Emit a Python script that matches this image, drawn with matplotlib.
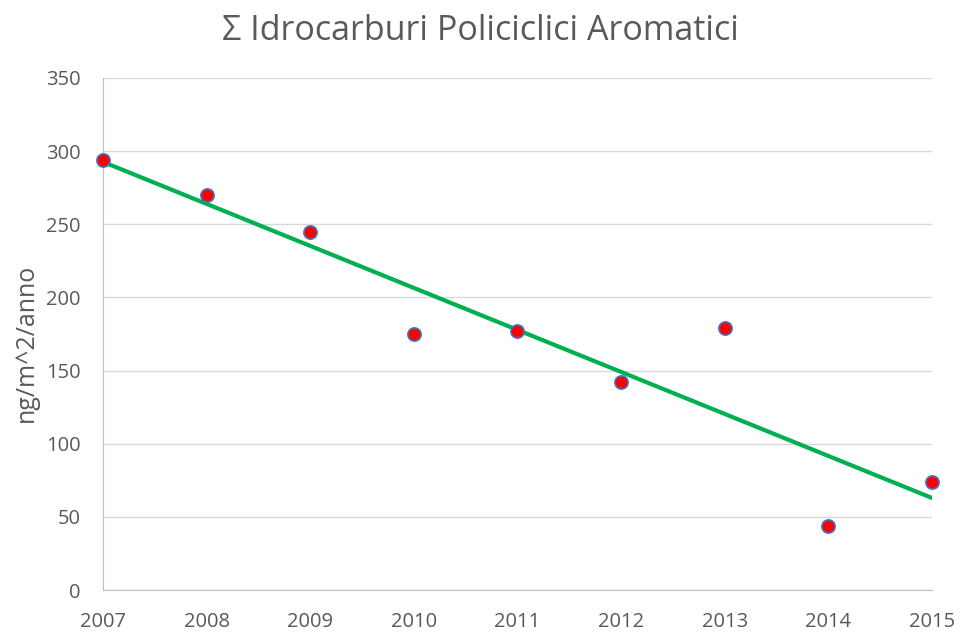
import matplotlib
matplotlib.use("Agg")
import matplotlib.pyplot as plt
import numpy as np

# yearly totals (ng/m^2/anno)
anni = [2007, 2008, 2009, 2010, 2011, 2012, 2013, 2014, 2015]
ipa = [294, 270, 245, 175, 177, 142, 179, 44, 74]

plt.rcParams['font.family'] = ['Open Sans', 'DejaVu Sans']
grigio = '#595959'

fig = plt.figure(figsize=(9.6, 6.34), dpi=100)
ax = fig.add_axes([0.1073, 0.0694, 0.8635, 0.8076])

# linear trend
coef = np.polyfit(anni, ipa, 1)
trend = np.polyval(coef, anni)
ax.plot(anni, trend, color='#00B050', lw=3, zorder=2)
ax.plot(anni, ipa, 'o', ms=9.5, mfc='#FF0000', mec='#4472C4', mew=1.2, zorder=3, clip_on=False)

ax.set_xlim(2007, 2015)
ax.set_ylim(0, 350)
ax.set_xticks(anni)
ax.set_yticks(range(0, 351, 50))
ax.grid(axis='y', color='#D9D9D9', lw=1)
ax.set_axisbelow(True)
for s in ['top', 'right']:
    ax.spines[s].set_visible(False)
ax.spines['left'].set_color('#BFBFBF')
ax.spines['bottom'].set_color('#BFBFBF')
ax.tick_params(length=0, labelsize=14.5, colors=grigio)
ax.tick_params(axis='y', pad=16)
ax.tick_params(axis='x', pad=16)

fig.text(26 / 960, 1 - 343 / 634, 'ng/m^2/anno', rotation=90, ha='center', va='center',
         fontsize=18, color=grigio)
fig.text(0.5, 1 - 31 / 634, '\u03a3 Idrocarburi Policiclici Aromatici', ha='center', va='center',
         fontsize=24.5, color=grigio)

fig.savefig('out.png', dpi=100)
